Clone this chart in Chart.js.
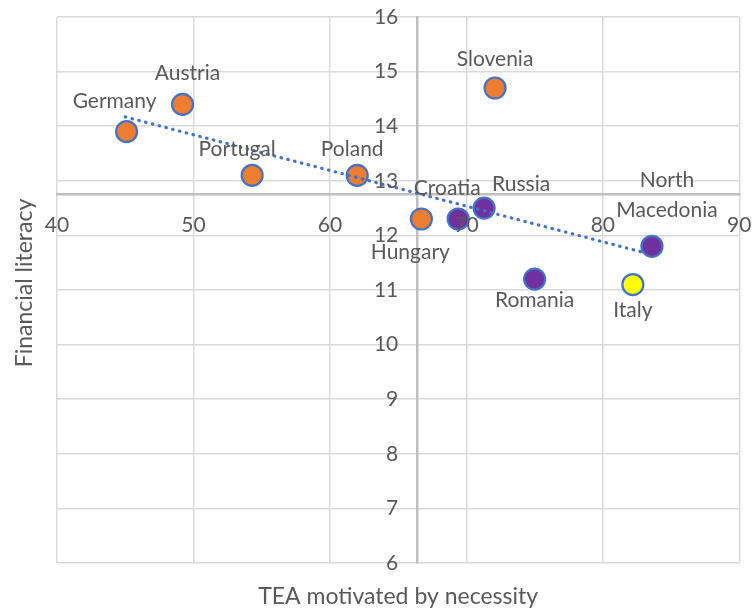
<!DOCTYPE html>
<html>
<head>
<meta charset="utf-8">
<script src="https://cdn.jsdelivr.net/npm/chart.js@4.4.1/dist/chart.umd.min.js"></script>
<style>
  html, body { margin: 0; padding: 0; background: #fff; }
  #wrap { width: 752px; height: 610px; position: relative; }
</style>
</head>
<body>
<div id="wrap"><canvas id="scatterChart"></canvas></div>
<script>
// Values
const countries = ['Germany', 'Austria', 'Portugal', 'Poland', 'Hungary', 'Croatia',
                   'Russia', 'Slovenia', 'Romania', 'Italy', 'North Macedonia'];
const teaNecessity = [45.1, 49.2, 54.3, 62.0, 66.7, 69.4, 71.3, 72.1, 75.0, 82.2, 83.6];
const financialLiteracy = [13.9, 14.4, 13.1, 13.1, 12.3, 12.3, 12.5, 14.7, 11.2, 11.1, 11.8];
const pointGroup = ['orange', 'orange', 'orange', 'orange', 'orange', 'purple',
                    'purple', 'orange', 'purple', 'yellow', 'purple'];

// Dotted trend line, its two ends
const trendX = [45.0, 82.8];
const trendY = [14.17, 11.70];

// Tick labels and where the two axes cross
const xTicks = [40, 50, 60, 70, 80, 90];
const yTicks = [6, 7, 8, 9, 10, 11, 12, 13, 14, 15, 16];
const crossX = 66.4;
const crossY = 12.76;

const groupColors = { orange: '#ED7D31', purple: '#7030A0', yellow: '#FFFF00' };
const textColor = '#595959';
const fontFamily = 'Lato, "Open Sans", sans-serif';

// Label offsets from the point centre, in pixels
const labelOffsets = {
    'Germany': [-12, -30],
    'Austria': [5, -31],
    'Portugal': [-15, -26],
    'Poland': [-5, -26],
    'Hungary': [-11, 33],
    'Croatia': [-11, -31],
    'Russia': [37, -24],
    'Slovenia': [0, -29],
    'Romania': [0, 21],
    'Italy': [0, 26],
    'North Macedonia': [15, -66]
};

// Plugin for the country names, the y tick labels and the axis titles
const labelPlugin = {
    id: 'pointLabels',
    afterDatasetsDraw(chart) {
        const ctx = chart.ctx;
        const meta = chart.getDatasetMeta(1);
        const area = chart.chartArea;
        const yScale = chart.scales.y;
        const axisX = chart.scales.x.getPixelForValue(crossX);
        ctx.save();
        ctx.fillStyle = textColor;
        ctx.textBaseline = 'middle';

        // y tick labels, left of the crossing axis
        ctx.font = '21px ' + fontFamily;
        ctx.textAlign = 'right';
        yScale.ticks.forEach(t => ctx.fillText(String(t.value), axisX - 19, yScale.getPixelForValue(t.value)));

        ctx.textAlign = 'center';
        meta.data.forEach((pt, i) => {
            const name = countries[i];
            const off = labelOffsets[name];
            const lines = name === 'North Macedonia' ? ['North', 'Macedonia'] : [name];
            lines.forEach((line, j) => ctx.fillText(line, pt.x + off[0], pt.y + off[1] + j * 30));
        });

        ctx.font = '23px ' + fontFamily;
        ctx.fillText('TEA motivated by necessity', (area.left + area.right) / 2, 597);
        ctx.translate(25, 283);
        ctx.rotate(-Math.PI / 2);
        ctx.fillText('Financial literacy', 0, 0);
        ctx.restore();
    }
};

function renderChart() {
    const ctx = document.getElementById('scatterChart').getContext('2d');
    new Chart(ctx, {
        type: 'scatter',
        data: {
            datasets: [{
                type: 'line',
                data: trendX.map((x, i) => ({ x: x, y: trendY[i] })),
                borderColor: '#4472C4',
                borderWidth: 3.2,
                borderDash: [0.5, 6.5],
                borderCapStyle: 'round',
                pointRadius: 0,
                showLine: true,
                order: 0
            }, {
                data: teaNecessity.map((x, i) => ({ x: x, y: financialLiteracy[i] })),
                backgroundColor: pointGroup.map(g => groupColors[g]),
                borderColor: '#4472C4',
                borderWidth: 2.2,
                pointRadius: 10.5,
                pointHoverRadius: 10.5,
                order: 1
            }]
        },
        options: {
            responsive: true,
            maintainAspectRatio: false,
            animation: false,
            events: [],
            layout: { padding: { left: 57, right: 12, top: 17, bottom: 47 } },
            plugins: {
                legend: { display: false },
                tooltip: { enabled: false }
            },
            scales: {
                x: {
                    type: 'linear',
                    position: { y: crossY },
                    min: 40,
                    max: 90,
                    afterBuildTicks: scale => { scale.ticks = xTicks.map(v => ({ value: v })); },
                    grid: { color: '#d9d9d9', lineWidth: 1.5, drawTicks: true, tickLength: 19, tickColor: 'rgba(0,0,0,0)' },
                    border: { color: '#bfbfbf', width: 2.5 },
                    ticks: {
                        autoSkip: false,
                        maxRotation: 0,
                        padding: 0,
                        color: textColor,
                        font: { family: fontFamily, size: 21 },
                        z: 1
                    }
                },
                y: {
                    type: 'linear',
                    position: { x: crossX },
                    min: 6,
                    max: 16,
                    afterBuildTicks: scale => { scale.ticks = yTicks.map(v => ({ value: v })); },
                    grid: { color: '#d9d9d9', lineWidth: 1.5, drawTicks: false },
                    border: { color: '#bfbfbf', width: 2.5 },
                    ticks: { display: false }
                }
            }
        },
        plugins: [labelPlugin]
    });
}

document.addEventListener('DOMContentLoaded', renderChart);
</script>
</body>
</html>
